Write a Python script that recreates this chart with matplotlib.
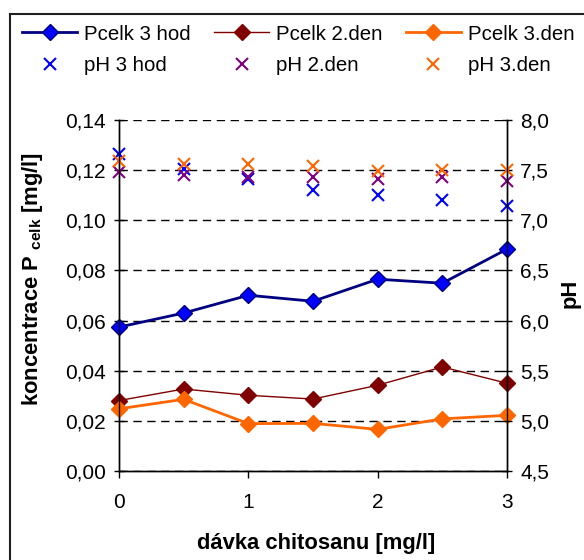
import matplotlib
matplotlib.use("Agg")
import matplotlib.pyplot as plt
from matplotlib.lines import Line2D
from matplotlib.ticker import FixedLocator, FuncFormatter

plt.rcParams['font.family'] = ['Liberation Sans', 'DejaVu Sans']
plt.rcParams['mathtext.fontset'] = 'custom'
plt.rcParams['mathtext.rm'] = 'Liberation Sans'
plt.rcParams['mathtext.bf'] = 'Liberation Sans:bold'

# chitosan dose [mg/l]
dose = [0, 0.5, 1, 1.5, 2, 2.5, 3]

# total phosphorus [mg/l]
p_3hod = [0.0574, 0.0630, 0.0701, 0.0677, 0.0765, 0.0749, 0.0885]
p_2den = [0.0281, 0.0327, 0.0302, 0.0287, 0.0342, 0.0415, 0.0350]
p_3den = [0.0248, 0.0286, 0.0189, 0.0190, 0.0166, 0.0208, 0.0222]

# pH
ph_3hod = [7.66, 7.51, 7.41, 7.30, 7.25, 7.20, 7.14]
ph_2den = [7.48, 7.45, 7.43, 7.43, 7.41, 7.43, 7.39]
ph_3den = [7.59, 7.56, 7.565, 7.54, 7.49, 7.50, 7.50]

left_ticks = [0.00, 0.02, 0.04, 0.06, 0.08, 0.10, 0.12, 0.14]
right_ticks = [4.5, 5.0, 5.5, 6.0, 6.5, 7.0, 7.5, 8.0]
x_ticks = [0, 1, 2, 3]

W, H = 584, 560
fig = plt.figure(figsize=(W / 100, H / 100), dpi=100)
ax = fig.add_axes([119 / W, 1 - 471 / H, (507 - 119) / W, (471 - 120) / H])
ax2 = ax.twinx()

fs_tick = 15
fs_leg = 14.7
fs_lab = 15.8

# phosphorus lines
l1, = ax.plot(dose, p_3hod, color='#000080', lw=2, marker='D', ms=8,
              mfc='#0000FF', mec='#000080', mew=1, zorder=5, clip_on=False)
l2, = ax.plot(dose, p_2den, color='#800000', lw=1, marker='D', ms=8,
              mfc='#800000', mec='#800000', zorder=5, clip_on=False)
l3, = ax.plot(dose, p_3den, color='#FF6600', lw=2, marker='D', ms=8,
              mfc='#FF6600', mec='#FF6600', zorder=5, clip_on=False)

# pH markers
s1, = ax2.plot(dose, ph_3hod, ls='none', marker='x', ms=9, mew=1.5,
               color='#0000FF', clip_on=False)
s2, = ax2.plot(dose, ph_2den, ls='none', marker='x', ms=9, mew=1.5,
               color='#800080', clip_on=False)
s3, = ax2.plot(dose, ph_3den, ls='none', marker='x', ms=9, mew=1.5,
               color='#FF6600', clip_on=False)

ax.set_xlim(0, 3)
ax.set_ylim(0, 0.14)
ax2.set_ylim(4.5, 8.0)

ax.xaxis.set_major_locator(FixedLocator(x_ticks))
ax.yaxis.set_major_locator(FixedLocator(left_ticks))
ax2.yaxis.set_major_locator(FixedLocator(right_ticks))
ax.yaxis.set_major_formatter(FuncFormatter(lambda v, p: f"{v:.2f}".replace('.', ',')))
ax2.yaxis.set_major_formatter(FuncFormatter(lambda v, p: f"{v:.1f}".replace('.', ',')))

for a in (ax, ax2):
    for s in a.spines.values():
        s.set_linewidth(1)
        s.set_color('black')
    a.spines['top'].set_visible(False)

ax.set_axisbelow(True)
ax.yaxis.grid(True, color='black', ls=(0, (6, 4)), lw=1)
ax.tick_params(axis='y', direction='inout', length=7, width=1, pad=6, labelsize=fs_tick)
ax.tick_params(axis='x', direction='out', length=5, width=1, pad=11, labelsize=fs_tick)
ax2.tick_params(axis='y', direction='inout', length=7, width=1, pad=6, labelsize=fs_tick)

fig.text(33 / W, 1 - 279 / H, r"koncentrace P $_{\mathbf{celk}}$ [mg/l]",
         rotation=90, ha='center', va='center', fontsize=fs_lab, fontweight='bold')
fig.text(570 / W, 1 - 293 / H, "pH", rotation=90, ha='center', va='center',
         fontsize=fs_lab, fontweight='bold')
fig.text(316 / W, 1 - 543 / H, "dávka chitosanu [mg/l]", ha='center', va='center',
         fontsize=fs_lab, fontweight='bold')

handles = [l1, s1, l2, s2, l3, s3]
labels = ["Pcelk 3 hod", "pH 3 hod", "Pcelk 2.den", "pH 2.den", "Pcelk 3.den", "pH 3.den"]
fig.legend(handles, labels, ncol=3, loc='upper left', bbox_to_anchor=(22 / W, 1 - 24.5 / H),
           frameon=False, fontsize=fs_leg, handlelength=2.7, handletextpad=0.36,
           columnspacing=1.12, labelspacing=0.62, borderaxespad=0, borderpad=0)

# outer chart frame (continues past right and bottom edges)
frame_kw = dict(transform=fig.transFigure, color='#202020', lw=1.5, zorder=10)
fig.add_artist(Line2D([9.5 / W, 9.5 / W], [0, 1 - 13.5 / H], **frame_kw))
fig.add_artist(Line2D([9.5 / W, 1], [1 - 13.5 / H, 1 - 13.5 / H], **frame_kw))

fig.savefig("out.png", dpi=100)
